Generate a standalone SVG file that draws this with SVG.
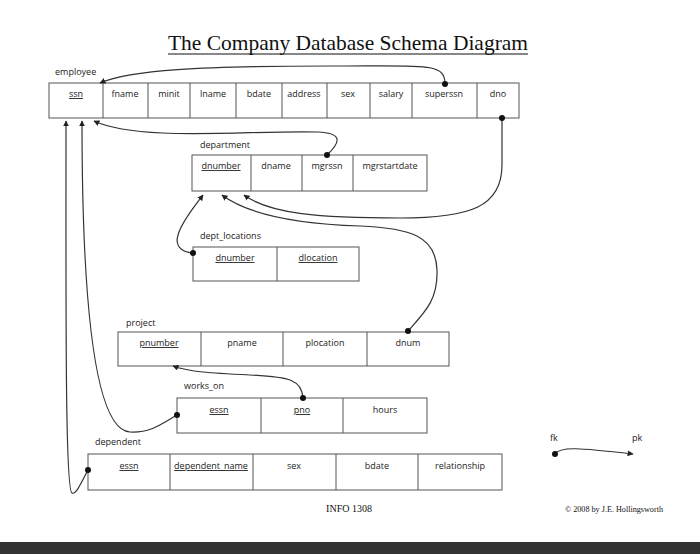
<svg xmlns="http://www.w3.org/2000/svg" width="700" height="554" viewBox="0 0 700 554">
<defs>
<style>
.t{font-family:"Open Sans","Liberation Sans",sans-serif;font-size:9px;fill:#222;text-anchor:middle}
.l{font-family:"Open Sans","Liberation Sans",sans-serif;font-size:9px;fill:#222}
.u{text-decoration:underline}
.box{fill:#fff;stroke:#555;stroke-width:1}
.div{stroke:#555;stroke-width:1}
.c{fill:none;stroke:#333;stroke-width:1.2}
.s{font-family:"Liberation Serif",serif;fill:#111}
</style>
<marker id="ah" viewBox="0 0 10 10" refX="9" refY="5" markerWidth="6" markerHeight="6" orient="auto" markerUnits="userSpaceOnUse"><path d="M0,0L10,5L0,10z" fill="#222"/></marker>
<marker id="dot" viewBox="0 0 10 10" refX="5" refY="5" markerWidth="6" markerHeight="6" markerUnits="userSpaceOnUse"><circle cx="5" cy="5" r="5" fill="#111"/></marker>
</defs>
<rect width="700" height="554" fill="#fff"/>
<text class="s" x="348" y="50" font-size="22" text-anchor="middle" textLength="360" lengthAdjust="spacingAndGlyphs">The Company Database Schema Diagram</text>
<line x1="168" y1="54" x2="528" y2="54" stroke="#111" stroke-width="1"/>

<g id="employee">
<text class="l" x="55" y="75">employee</text>
<rect class="box" x="49" y="83" width="470" height="35"/>
<path class="div" d="M103,83V118M148,83V118M190,83V118M236,83V118M282,83V118M327,83V118M370,83V118M412,83V118M477,83V118"/>
<text class="t u" x="76" y="97">ssn</text>
<text class="t" x="125" y="97">fname</text>
<text class="t" x="169" y="97">minit</text>
<text class="t" x="213" y="97">lname</text>
<text class="t" x="259" y="97">bdate</text>
<text class="t" x="304" y="97">address</text>
<text class="t" x="348" y="97">sex</text>
<text class="t" x="391" y="97">salary</text>
<text class="t" x="444" y="97">superssn</text>
<text class="t" x="498" y="97">dno</text>
</g>

<g id="department">
<text class="l" x="200" y="148">department</text>
<rect class="box" x="192" y="155" width="235" height="36"/>
<path class="div" d="M251,155V191M302,155V191M353,155V191"/>
<text class="t u" x="221" y="169">dnumber</text>
<text class="t" x="276" y="169">dname</text>
<text class="t" x="327" y="169">mgrssn</text>
<text class="t" x="390" y="169">mgrstartdate</text>
</g>

<g id="dept_locations">
<text class="l" x="200" y="239">dept_locations</text>
<rect class="box" x="193" y="247" width="166" height="34"/>
<path class="div" d="M277,247V281"/>
<text class="t u" x="235" y="261">dnumber</text>
<text class="t u" x="318" y="261">dlocation</text>
</g>

<g id="project">
<text class="l" x="126" y="326">project</text>
<rect class="box" x="118" y="332" width="331" height="34"/>
<path class="div" d="M201,332V366M283,332V366M367,332V366"/>
<text class="t u" x="159" y="346">pnumber</text>
<text class="t" x="242" y="346">pname</text>
<text class="t" x="325" y="346">plocation</text>
<text class="t" x="408" y="346">dnum</text>
</g>

<g id="works_on">
<text class="l" x="184" y="389">works_on</text>
<rect class="box" x="177" y="398" width="250" height="35"/>
<path class="div" d="M261,398V433M343,398V433"/>
<text class="t u" x="219" y="413">essn</text>
<text class="t u" x="302" y="413">pno</text>
<text class="t" x="385" y="413">hours</text>
</g>

<g id="dependent">
<text class="l" x="95" y="445">dependent</text>
<rect class="box" x="88" y="454" width="414" height="36"/>
<path class="div" d="M170,454V490M253,454V490M336,454V490M418,454V490"/>
<text class="t u" x="129" y="469">essn</text>
<text class="t u" x="211" y="469">dependent_name</text>
<text class="t" x="294" y="469">sex</text>
<text class="t" x="377" y="469">bdate</text>
<text class="t" x="460" y="469">relationship</text>
</g>

<g id="connectors">
<path class="c" marker-start="url(#dot)" marker-end="url(#ah)" d="M445,84C445,62 425,66 330,66C200,66 130,70 100,83"/>
<path class="c" marker-start="url(#dot)" marker-end="url(#ah)" d="M327,155C343,140 340,133 318,132C250,130 140,142 94,121"/>
<path class="c" marker-start="url(#dot)" marker-end="url(#ah)" d="M502,118L502,165C502,207 470,218 400,218C320,218 270,214 244,195"/>
<path class="c" marker-start="url(#dot)" marker-end="url(#ah)" d="M408,331C425,312 438,300 437,270C436,236 410,228 360,226C300,224 250,216 222,195"/>
<path class="c" marker-start="url(#dot)" marker-end="url(#ah)" d="M193,253C180,252 175,245 178,235C182,221 195,206 203,195"/>
<path class="c" marker-start="url(#dot)" marker-end="url(#ah)" d="M303,398C302,380 290,377 250,375C210,373 190,372 173,366"/>
<path class="c" marker-start="url(#dot)" marker-end="url(#ah)" d="M177,415C160,425 150,433 130,432C94,430 82,300 82,121"/>
<path class="c" marker-start="url(#dot)" marker-end="url(#ah)" d="M88,470C80,485 76,495 72,493C65,490 66,300 66,121"/>
</g>

<g id="legend">
<text class="l" x="550" y="441">fk</text>
<text class="l" x="632" y="441">pk</text>
<path class="c" marker-start="url(#dot)" marker-end="url(#ah)" d="M555,454C560,446 580,448 633,454"/>
</g>

<text class="s" x="349" y="512" font-size="10" text-anchor="middle">INFO 1308</text>
<text class="s" x="614" y="512" font-size="7.5" text-anchor="middle" textLength="98" lengthAdjust="spacingAndGlyphs">© 2008 by J.E. Hollingsworth</text>
<rect x="0" y="542" width="700" height="12" fill="#333"/>
</svg>
